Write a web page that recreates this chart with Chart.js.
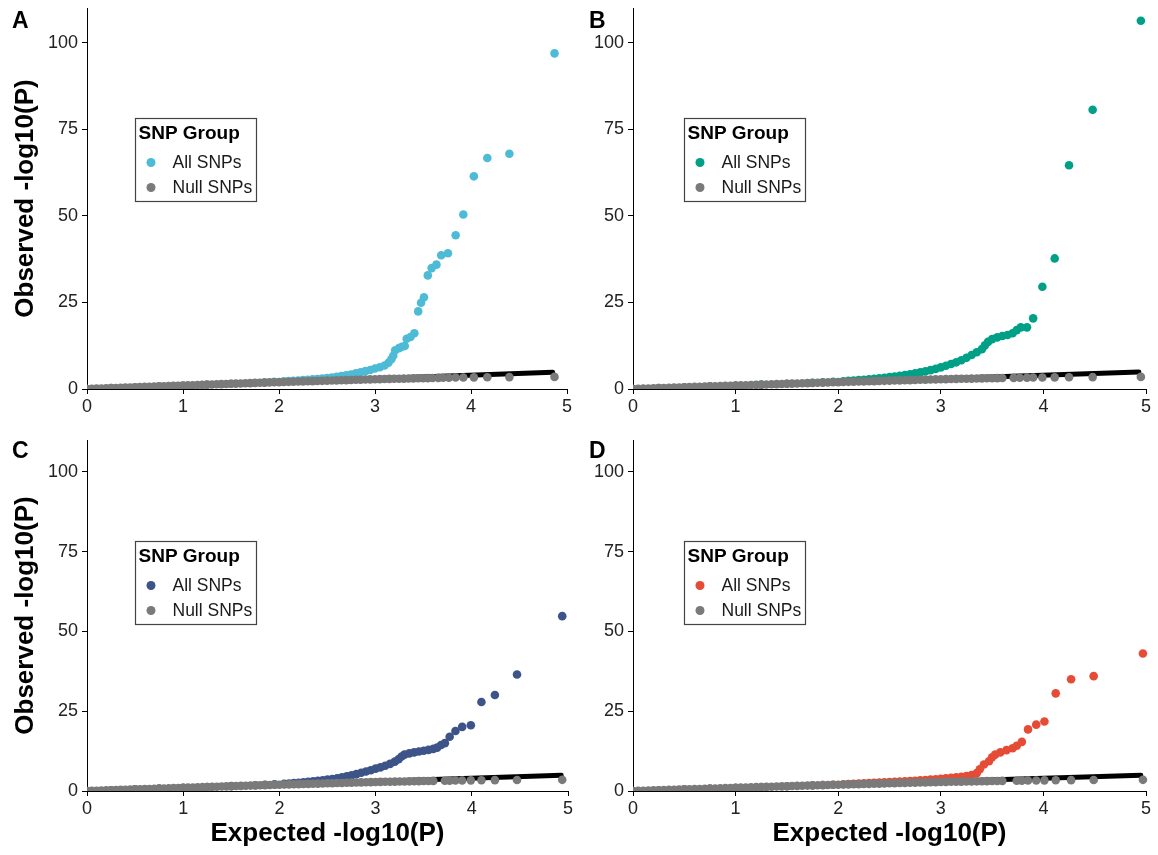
<!DOCTYPE html>
<html>
<head>
<meta charset="utf-8">
<title>QQ plots</title>
<script src="https://cdn.jsdelivr.net/npm/chart.js@4.4.1/dist/chart.umd.min.js"></script>
<style>
  body { margin: 0; background: #fff; }
  .panel { position: absolute; }
</style>
</head>
<body>
<div class="panel" style="left:0;top:0;width:580px;height:430px"><canvas id="chartA"></canvas></div>
<div class="panel" style="left:580px;top:0;width:578px;height:430px"><canvas id="chartB"></canvas></div>
<div class="panel" style="left:0;top:430px;width:580px;height:425px"><canvas id="chartC"></canvas></div>
<div class="panel" style="left:580px;top:430px;width:578px;height:425px"><canvas id="chartD"></canvas></div>
<script>
// axis ticks
const xTicks = [0, 1, 2, 3, 4, 5];
const yTicks = [0, 25, 50, 75, 100];

// legend text
const legendTitle = 'SNP Group';
const seriesNames = ['All SNPs', 'Null SNPs'];

// null SNPs, dense part (same in all four panels)
const nullExp = [0, 0.05, 0.1, 0.15, 0.2, 0.25, 0.3, 0.35, 0.4, 0.45, 0.5, 0.55, 0.6, 0.65, 0.7, 0.75, 0.8, 0.85, 0.9, 0.95,
  1.0, 1.05, 1.1, 1.15, 1.2, 1.25, 1.3, 1.35, 1.4, 1.45, 1.5, 1.55, 1.6, 1.65, 1.7, 1.75, 1.8, 1.85, 1.9, 1.95,
  2.0, 2.05, 2.1, 2.15, 2.2, 2.25, 2.3, 2.35, 2.4, 2.45, 2.5, 2.55, 2.6, 2.65, 2.7, 2.75, 2.8, 2.85, 2.9, 2.95,
  3.0, 3.05, 3.1, 3.15, 3.2, 3.25, 3.3, 3.35, 3.4, 3.45, 3.5, 3.55, 3.6];
const nullObs = [0, 0.05, 0.1, 0.15, 0.2, 0.25, 0.3, 0.35, 0.4, 0.45, 0.5, 0.55, 0.6, 0.65, 0.7, 0.75, 0.8, 0.85, 0.9, 0.95,
  1.0, 1.05, 1.1, 1.15, 1.2, 1.25, 1.3, 1.35, 1.4, 1.45, 1.5, 1.55, 1.6, 1.65, 1.7, 1.75, 1.8, 1.85, 1.9, 1.94,
  1.98, 2.02, 2.07, 2.11, 2.15, 2.2, 2.24, 2.28, 2.32, 2.36, 2.41, 2.45, 2.49, 2.53, 2.57, 2.61, 2.65, 2.69, 2.73, 2.77,
  2.81, 2.85, 2.88, 2.91, 2.94, 2.97, 3.0, 3.03, 3.06, 3.09, 3.12, 3.15, 3.18];
// null SNPs, sparse tail
const nullTailObs = [3.21, 3.24, 3.27, 3.3, 3.33, 3.36, 3.4, 3.44, 3.5];
const nullTailA = [3.66, 3.71, 3.77, 3.84, 3.92, 4.03, 4.17, 4.40, 4.87];
const nullTailB = [3.71, 3.77, 3.84, 3.90, 3.99, 4.11, 4.25, 4.48, 4.95];
const nullTailC = [3.72, 3.77, 3.83, 3.90, 3.99, 4.10, 4.24, 4.47, 4.94];
const nullTailD = [3.74, 3.79, 3.85, 3.93, 4.01, 4.12, 4.27, 4.49, 4.97];

// all SNPs, panel A
const expA = [0, 0.25, 0.5, 0.75, 1, 1.25, 1.5, 1.75, 1.85, 1.95, 2.05,
  2.1, 2.15, 2.2, 2.25, 2.3, 2.35, 2.4, 2.45, 2.5, 2.55, 2.6, 2.65, 2.7, 2.75, 2.8, 2.85, 2.9, 2.95, 3.0, 3.05, 3.1,
  3.14, 3.17, 3.19, 3.21, 3.25, 3.28, 3.31, 3.33, 3.37, 3.41,
  3.45, 3.48, 3.51, 3.55, 3.59, 3.64, 3.69, 3.76, 3.84, 3.92,
  4.03, 4.17, 4.40, 4.87];
const obsA = [0, 0.25, 0.5, 0.75, 1, 1.26, 1.52, 1.8, 1.92, 2.05, 2.2,
  2.28, 2.37, 2.46, 2.56, 2.66, 2.77, 2.9, 3.03, 3.18, 3.34, 3.52, 3.72, 3.95, 4.2, 4.5, 4.82, 5.15, 5.5, 5.9, 6.3, 6.8,
  7.6, 8.6, 9.6, 11.2, 11.8, 12.2, 12.4, 14.5, 15.0, 16.1,
  22.4, 24.9, 26.5, 32.8, 34.9, 35.9, 38.6, 39.2, 44.4, 50.4,
  61.4, 66.7, 67.9, 96.9];

// all SNPs, panel B
const expB = [0, 0.25, 0.5, 0.75, 1, 1.25, 1.5, 1.75, 1.85, 1.95, 2.05,
  2.1, 2.15, 2.2, 2.25, 2.3, 2.35, 2.4, 2.45, 2.5, 2.55, 2.6, 2.65, 2.7, 2.75, 2.8, 2.85, 2.9, 2.95, 3.0, 3.05, 3.1,
  3.15, 3.2, 3.25, 3.3, 3.35, 3.4,
  3.43, 3.46, 3.5, 3.55, 3.6, 3.65, 3.7, 3.74, 3.78, 3.84,
  3.90, 3.99, 4.11, 4.25, 4.48, 4.95];
const obsB = [0, 0.25, 0.5, 0.75, 1, 1.26, 1.53, 1.82, 1.95, 2.08, 2.25,
  2.35, 2.46, 2.57, 2.69, 2.82, 2.96, 3.1, 3.26, 3.43, 3.6, 3.8, 4.02, 4.25, 4.5, 4.8, 5.1, 5.45, 5.8, 6.25, 6.7, 7.2,
  7.7, 8.3, 9.0, 9.8, 10.6, 11.5,
  12.6, 13.6, 14.4, 14.9, 15.3, 15.6, 16.1, 17.0, 17.8, 17.8,
  20.4, 29.5, 37.7, 64.6, 80.6, 106.3];

// all SNPs, panel C
const expC = [0, 0.25, 0.5, 0.75, 1, 1.25, 1.5, 1.75, 1.85, 1.95, 2.05,
  2.1, 2.15, 2.2, 2.25, 2.3, 2.35, 2.4, 2.45, 2.5, 2.55, 2.6, 2.65, 2.7, 2.75, 2.8, 2.85, 2.9, 2.95, 3.0, 3.05, 3.1, 3.15, 3.2,
  3.24, 3.27, 3.3, 3.35, 3.4, 3.45, 3.5, 3.55, 3.6, 3.64,
  3.68, 3.72, 3.77, 3.83, 3.90, 3.99, 4.10, 4.24, 4.47, 4.94];
const obsC = [0, 0.25, 0.5, 0.75, 1, 1.26, 1.53, 1.82, 1.95, 2.08, 2.24,
  2.35, 2.47, 2.6, 2.74, 2.9, 3.05, 3.2, 3.38, 3.58, 3.78, 4.0, 4.28, 4.58, 4.92, 5.3, 5.7, 6.1, 6.5, 7.0, 7.4, 7.9, 8.5, 9.2,
  10.0, 10.8, 11.4, 11.8, 12.1, 12.4, 12.6, 12.9, 13.2, 13.6,
  14.4, 15.0, 17.0, 18.8, 20.1, 20.6, 27.9, 30.1, 36.5, 54.8];

// all SNPs, panel D
const expD = [0, 0.25, 0.5, 0.75, 1, 1.25, 1.5, 1.75, 1.85, 1.95, 2.05,
  2.1, 2.15, 2.2, 2.25, 2.3, 2.35, 2.4, 2.45, 2.5, 2.55, 2.6, 2.65, 2.7, 2.75, 2.8, 2.85, 2.9, 2.95, 3.0, 3.05, 3.1, 3.15, 3.2, 3.25, 3.3,
  3.35, 3.38, 3.42, 3.47, 3.5, 3.53, 3.58, 3.64, 3.70, 3.74, 3.79,
  3.85, 3.93, 4.01, 4.12, 4.27, 4.49, 4.97];
const obsD = [0, 0.25, 0.5, 0.75, 1, 1.25, 1.5, 1.76, 1.87, 1.98, 2.1,
  2.2, 2.27, 2.34, 2.41, 2.48, 2.55, 2.62, 2.7, 2.78, 2.86, 2.94, 3.03, 3.12, 3.22, 3.32, 3.43, 3.55, 3.68, 3.82, 3.97, 4.12, 4.28, 4.46, 4.7, 5.0,
  5.6, 6.8, 8.3, 9.3, 10.6, 11.4, 12.1, 12.8, 13.4, 14.2, 15.4,
  19.3, 20.8, 21.8, 30.6, 35.0, 36.0, 43.1];

// end of the expected = observed line in each panel
const diagEnd = [4.85, 4.93, 4.93, 4.95];

const fontFam = '"Liberation Sans", Arial, Helvetica, sans-serif';
const nullColor = '#7a7a7a';

function pts(xs, ys) {
  return xs.map((x, i) => ({ x: x, y: ys[i] }));
}

// panel letter + boxed legend drawn inside the plot area
const panelDecor = {
  id: 'panelDecor',
  afterDraw(chart, args, o) {
    const ctx = chart.ctx;
    const a = chart.chartArea;
    ctx.save();
    ctx.fillStyle = '#000';
    ctx.font = 'bold 23px ' + fontFam;
    ctx.textAlign = 'left';
    ctx.textBaseline = 'alphabetic';
    ctx.fillText(o.letter, o.letterX, 28);

    const bx = Math.round(a.left + (a.right - a.left) * 0.099) + 0.5;
    const by = Math.round(a.top + (a.bottom - a.top) * 0.288) + 0.5;
    ctx.fillStyle = '#fff';
    ctx.fillRect(bx, by, 121, 83);
    ctx.strokeStyle = '#444';
    ctx.lineWidth = 1.2;
    ctx.strokeRect(bx, by, 121, 83);

    ctx.fillStyle = '#000';
    ctx.textBaseline = 'middle';
    ctx.font = 'bold 19px ' + fontFam;
    ctx.fillText(legendTitle, bx + 3, by + 15);

    ctx.font = '17.5px ' + fontFam;
    const cols = [o.color, nullColor];
    seriesNames.forEach((name, i) => {
      const cy = by + 44 + i * 25;
      ctx.beginPath();
      ctx.arc(bx + 15.5, cy, 4.5, 0, Math.PI * 2);
      ctx.fillStyle = cols[i];
      ctx.fill();
      ctx.fillStyle = '#1a1a1a';
      ctx.fillText(name, bx + 37, cy + 1);
    });
    ctx.restore();
  }
};

function makePanel(id, cfg) {
  const ctx = document.getElementById(id).getContext('2d');
  const d = cfg.diag;
  const clipArea = { left: 0, top: 20, right: 20, bottom: 0 };
  return new Chart(ctx, {
    type: 'scatter',
    data: {
      datasets: [
        {
          label: seriesNames[1],
          data: pts(nullExp, nullObs).concat(pts(cfg.nullTail, nullTailObs)),
          backgroundColor: nullColor,
          borderWidth: 0,
          pointRadius: 4.3,
          pointHoverRadius: 4.3,
          clip: clipArea
        },
        {
          label: seriesNames[0],
          data: pts(cfg.exp, cfg.obs),
          backgroundColor: cfg.color,
          borderWidth: 0,
          pointRadius: 4.3,
          pointHoverRadius: 4.3,
          clip: clipArea
        },
        {
          label: 'Expected',
          data: [{ x: 0, y: 0 }, { x: d, y: d }],
          showLine: true,
          borderColor: '#000',
          borderWidth: 5,
          borderCapStyle: 'round',
          pointRadius: 0,
          pointHoverRadius: 0,
          clip: clipArea
        }
      ]
    },
    options: {
      responsive: true,
      maintainAspectRatio: false,
      animation: false,
      events: [],
      layout: { padding: { top: cfg.padTop, right: cfg.padRight, left: 0, bottom: 0 } },
      plugins: {
        legend: { display: false },
        tooltip: { enabled: false },
        panelDecor: { letter: cfg.letter, letterX: cfg.letterX, color: cfg.color }
      },
      scales: {
        x: {
          type: 'linear',
          min: 0,
          max: 5,
          afterBuildTicks: s => { s.ticks = xTicks.map(v => ({ value: v })); },
          afterFit: s => { s.height = cfg.xHeight; },
          grid: { drawOnChartArea: false, drawTicks: true, tickLength: 5, color: '#000' },
          border: { color: '#000', width: 1 },
          ticks: { color: '#222', font: { size: 18, family: fontFam }, padding: 2, maxRotation: 0 },
          title: {
            display: cfg.xTitle,
            text: 'Expected -log10(P)',
            color: '#000',
            font: { size: 26, weight: 'bold', family: fontFam },
            padding: { top: 0, bottom: 6 }
          }
        },
        y: {
          type: 'linear',
          min: 0,
          max: 110,
          afterBuildTicks: s => { s.ticks = yTicks.map(v => ({ value: v })); },
          afterFit: s => { s.width = cfg.yWidth; s.paddingTop = 0; s.paddingBottom = 0; },
          grid: { drawOnChartArea: false, drawTicks: true, tickLength: 5, color: '#000' },
          border: { color: '#000', width: 1 },
          ticks: { color: '#222', font: { size: 18, family: fontFam }, padding: 4 },
          title: {
            display: cfg.yTitle,
            text: 'Observed -log10(P)',
            color: '#000',
            font: { size: 26, weight: 'bold', family: fontFam },
            padding: { top: 10, bottom: 0 }
          }
        }
      }
    },
    plugins: [panelDecor]
  });
}

makePanel('chartA', { letter: 'A', letterX: 12, color: '#4DBBD5', exp: expA, obs: obsA, nullTail: nullTailA, diag: diagEnd[0],
  yTitle: true, xTitle: false, yWidth: 87, xHeight: 41, padTop: 8, padRight: 13 });
makePanel('chartB', { letter: 'B', letterX: 9, color: '#00A087', exp: expB, obs: obsB, nullTail: nullTailB, diag: diagEnd[1],
  yTitle: false, xTitle: false, yWidth: 53, xHeight: 41, padTop: 8, padRight: 12 });
makePanel('chartC', { letter: 'C', letterX: 12, color: '#3C5488', exp: expC, obs: obsC, nullTail: nullTailC, diag: diagEnd[2],
  yTitle: true, xTitle: true, yWidth: 87, xHeight: 64, padTop: 10, padRight: 12 });
makePanel('chartD', { letter: 'D', letterX: 9, color: '#E64B35', exp: expD, obs: obsD, nullTail: nullTailD, diag: diagEnd[3],
  yTitle: false, xTitle: true, yWidth: 53, xHeight: 64, padTop: 10, padRight: 12 });
</script>
</body>
</html>
